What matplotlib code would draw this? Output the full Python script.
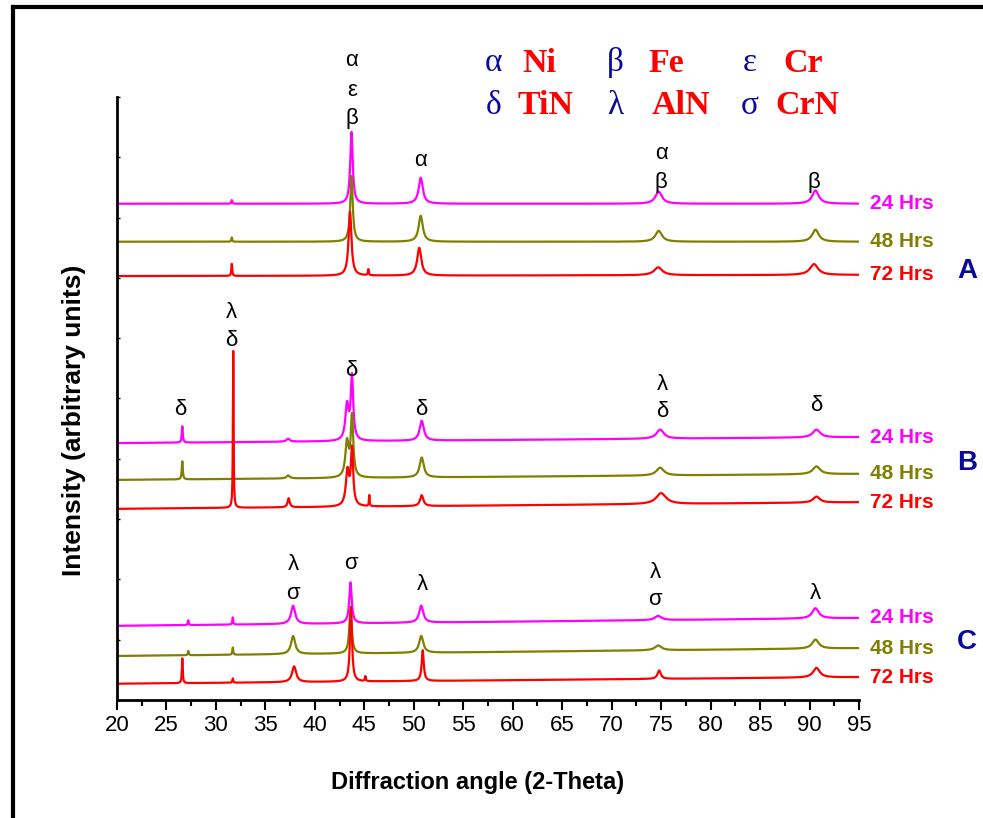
import numpy as np
import matplotlib
matplotlib.use("Agg")
import matplotlib.pyplot as plt
from matplotlib.lines import Line2D

plt.rcParams['font.family'] = ['Liberation Sans', 'DejaVu Sans']

# 2-theta grid of the scans
two_theta = np.arange(20.0, 95.0, 0.01)

# peaks of each scan: (position in deg, height, fwhm in deg)
A24_peaks = [(31.6, 0.06, 0.1), (43.7, 1.19, 0.30), (50.7, 0.43, 0.50), (74.75, 0.20, 0.80), (90.6, 0.22, 0.80)]
A48_peaks = [(31.6, 0.07, 0.1), (43.7, 1.09, 0.30), (50.7, 0.43, 0.50), (74.75, 0.18, 0.80), (90.6, 0.20, 0.80)]
A72_peaks = [(31.6, 0.20, 0.1), (43.55, 1.06, 0.35), (45.4, 0.10, 0.1), (50.55, 0.46, 0.50), (74.7, 0.13, 1.0), (90.45, 0.18, 1.0)]

B24_peaks = [(26.6, 0.27, 0.12), (37.3, 0.05, 0.4), (43.25, 0.58, 0.40), (43.75, 1.05, 0.30), (50.8, 0.33, 0.50), (74.9, 0.15, 0.90), (90.7, 0.13, 0.90)]
B48_peaks = [(26.6, 0.30, 0.12), (37.3, 0.05, 0.4), (43.25, 0.58, 0.40), (43.75, 1.00, 0.30), (50.8, 0.33, 0.50), (74.9, 0.13, 0.90), (90.7, 0.13, 0.90)]
B72_peaks = [(31.75, 2.60, 0.08), (37.35, 0.15, 0.25), (43.3, 0.58, 0.40), (43.75, 0.92, 0.28), (45.5, 0.18, 0.08), (50.8, 0.18, 0.40), (75.0, 0.18, 1.2), (90.7, 0.10, 0.80)]

C24_peaks = [(27.2, 0.08, 0.1), (31.7, 0.12, 0.1), (37.8, 0.30, 0.50), (43.6, 0.68, 0.30), (50.75, 0.28, 0.50), (74.7, 0.07, 0.80), (90.6, 0.17, 0.80)]
C48_peaks = [(27.2, 0.07, 0.1), (31.7, 0.12, 0.1), (37.8, 0.30, 0.50), (43.6, 0.72, 0.30), (50.75, 0.28, 0.50), (74.7, 0.08, 0.80), (90.6, 0.15, 0.80)]
C72_peaks = [(26.6, 0.41, 0.1), (31.7, 0.07, 0.1), (37.9, 0.26, 0.50), (43.65, 1.24, 0.25), (45.1, 0.08, 0.1), (50.9, 0.51, 0.25), (74.8, 0.14, 0.40), (90.7, 0.16, 0.80)]

# background level at 20 deg and at 95 deg (stacked offsets)
A_base = {'24': (8.23, 8.23), '48': (7.60, 7.60), '72': (7.03, 7.05)}
B_base = {'24': (4.26, 4.36), '48': (3.65, 3.75), '72': (3.17, 3.28)}
C_base = {'24': (1.23, 1.36), '48': (0.73, 0.86), '72': (0.27, 0.38)}

hours = ['24', '48', '72']
colors = {'24': '#ff00ff', '48': '#808000', '72': '#ff0000'}

panels = [
    ('A', A_base, {'24': A24_peaks, '48': A48_peaks, '72': A72_peaks}, 7.12),
    ('B', B_base, {'24': B24_peaks, '48': B48_peaks, '72': B72_peaks}, 3.93),
    ('C', C_base, {'24': C24_peaks, '48': C48_peaks, '72': C72_peaks}, 0.96),
]

# peak annotations: (x, y, letter)
peak_labels = [
    (43.75, 10.61, 'α'), (43.75, 10.10, 'ε'), (43.75, 9.65, 'β'),
    (50.65, 8.95, 'α'), (75.0, 9.07, 'α'), (75.0, 8.59, 'β'), (90.45, 8.59, 'β'),
    (31.6, 6.42, 'λ'), (31.6, 5.97, 'δ'), (26.45, 4.81, 'δ'), (43.7, 5.46, 'δ'),
    (50.8, 4.81, 'δ'), (75.1, 5.24, 'λ'), (75.1, 4.78, 'δ'), (90.65, 4.89, 'δ'),
    (37.8, 2.24, 'λ'), (37.8, 1.77, 'σ'), (43.65, 2.27, 'σ'), (50.85, 1.92, 'λ'),
    (74.4, 2.12, 'λ'), (74.4, 1.66, 'σ'), (90.55, 1.77, 'λ'),
]

# legend of phases
phase_symbols = ['α', 'β', 'ε', 'δ', 'λ', 'σ']
phase_names = ['Ni', 'Fe', 'Cr', 'TiN', 'AlN', 'CrN']


def profile(x, peaks, b0, b1):
    y = b0 + (b1 - b0) * (x - x[0]) / (x[-1] - x[0])
    for pos, h, w in peaks:
        y = y + h / (1 + ((x - pos) / (w / 2)) ** 2)
    return y


fig = plt.figure(figsize=(9.83, 8.18), dpi=100)
ax = fig.add_axes([117 / 983, 1 - 700 / 818, 742 / 983, 603 / 818])

for letter, base, peaks, letter_y in panels:
    for h in hours:
        b0, b1 = base[h]
        ax.plot(two_theta, profile(two_theta, peaks[h], b0, b1), color=colors[h], lw=1.6)
        ax.text(96.1, b1, h + ' Hrs', color=colors[h], fontsize=15, fontweight='bold',
                va='center', ha='left', clip_on=False)
    ax.text(105.9, letter_y, letter, color='#0a0a9a', fontsize=20, fontweight='bold',
            ha='center', va='center', clip_on=False)

for x, y, s in peak_labels:
    ax.text(x, y, s, fontsize=16, ha='center', va='center', clip_on=False)

# phase legend, two rows of three
leg_sym_x = [494, 615, 750, 494, 615, 750]
leg_name_x = [522, 648, 783, 518, 652, 775]
leg_y = [63, 63, 63, 106, 106, 106]
for i in range(6):
    fig.text(leg_sym_x[i] / 983, 1 - leg_y[i] / 818, phase_symbols[i], color='#0a0a9a',
             family='Liberation Serif', fontsize=24, ha='center', va='center')
    fig.text(leg_name_x[i] / 983, 1 - leg_y[i] / 818, phase_names[i], color='#ff0000',
             family='Liberation Serif', fontweight='bold', fontsize=24.5, ha='left', va='center')

ax.set_xlim(20, 95)
ax.set_ylim(0, 10)
ax.set_xticks(np.arange(20, 96, 5))
ax.set_xticks(np.arange(22.5, 95, 5), minor=True)
ax.set_yticks(np.arange(0, 11, 1))
ax.set_yticklabels([])
ax.tick_params(axis='x', which='major', direction='out', length=7, width=1.5, labelsize=16, pad=4)
ax.tick_params(axis='x', which='minor', direction='out', length=4, width=1.5)
ax.tick_params(axis='y', which='major', direction='in', length=2.5, width=1)
ax.spines['top'].set_visible(False)
ax.spines['right'].set_visible(False)
ax.spines['left'].set_linewidth(2)
ax.spines['bottom'].set_linewidth(2)

ax.set_xlabel('Diffraction angle (2-Theta)', fontsize=17, fontweight='bold')
ax.set_ylabel('Intensity (arbitrary units)', fontsize=19, fontweight='bold')
ax.xaxis.set_label_coords(0.4865, -0.117)
ax.yaxis.set_label_coords(-0.042, 0.464)

# outer frame (top and left edges)
fig.add_artist(Line2D([13 / 983, 1], [1 - 7 / 818, 1 - 7 / 818], color='black', lw=3))
fig.add_artist(Line2D([13 / 983, 13 / 983], [0, 1 - 7 / 818], color='black', lw=3))

fig.savefig('out.png', dpi=100)
